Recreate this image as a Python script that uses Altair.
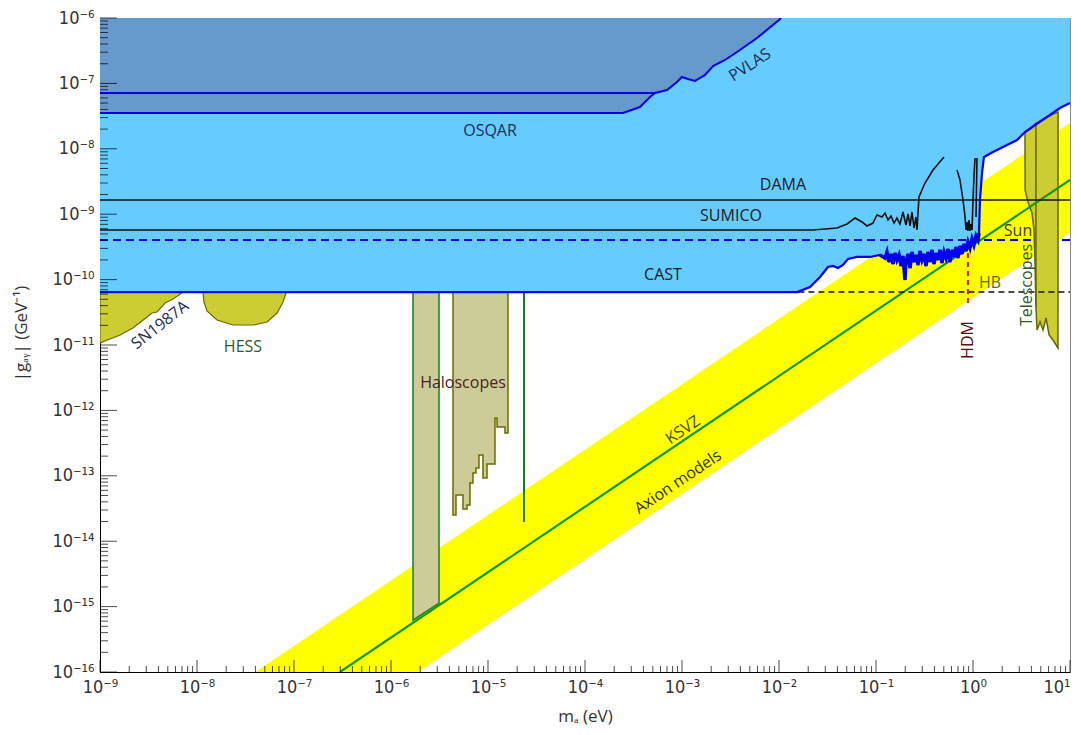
import altair as alt
import pandas as pd

# ================= data (log10 values) =================
x_decades = list(range(-9, 2))          # 1e-9 ... 1e1 eV
y_decades = list(range(-16, -5))        # 1e-16 ... 1e-6 GeV^-1
minor_mult = [2, 3, 4, 5, 6, 7, 8, 9]

# CAST (helioscope) lower boundary of the light-blue excluded region
cast_lx = [-9.0, -1.814, -1.680, -1.577, -1.495, -1.443, -1.392, -1.340, -1.289, -1.196, -1.062, -0.959,
           -0.907, -0.887, -0.866, -0.845, -0.825, -0.804, -0.784, -0.763, -0.742, -0.722,
           -0.701, -0.691, -0.670, -0.649, -0.629, -0.608, -0.588, -0.567, -0.546, -0.526,
           -0.505, -0.485, -0.464, -0.443, -0.423, -0.402, -0.381, -0.361, -0.340, -0.320,
           -0.299, -0.278, -0.258, -0.237, -0.216, -0.196, -0.175, -0.155, -0.134, -0.113,
           -0.093, -0.072, -0.052, -0.031, -0.010, 0.010, 0.031, 0.052, 0.062,
           0.072, 0.093, 0.113, 0.206, 0.309, 0.454, 0.536, 0.639, 0.763, 0.897, 1.0]
cast_ly = [-10.190, -10.190, -10.113, -9.960, -9.807, -9.792, -9.823, -9.777, -9.685, -9.654, -9.654, -9.624,
           -9.670, -9.578, -9.731, -9.609, -9.761, -9.593, -9.700, -9.624, -9.792, -9.639,
           -10.006, -9.731, -9.609, -9.823, -9.578, -9.731, -9.624, -9.777, -9.563, -9.700,
           -9.609, -9.792, -9.578, -9.731, -9.547, -9.761, -9.593, -9.700, -9.547, -9.746,
           -9.578, -9.670, -9.532, -9.731, -9.547, -9.654, -9.502, -9.670, -9.486, -9.609,
           -9.456, -9.563, -9.425, -9.517, -9.379, -9.471, -9.333, -9.394, -9.287,
           -8.783, -8.370, -8.125, -8.049, -7.972, -7.865, -7.743, -7.636, -7.514, -7.376, -7.300]
cast_noise_range = (11, 61)   # index range of the noisy CAST segment

# OSQAR / PVLAS lower boundary of the dark-blue region
pvlas_lx = [-9.0, -3.608, -3.433, -3.330, -3.278, -3.155, -3.052, -3.000, -2.938, -2.866,
            -2.763, -2.680, -2.557, -2.433, -2.227, -2.000, -1.979]
pvlas_ly = [-7.453, -7.453, -7.361, -7.208, -7.147, -7.101, -6.979, -6.902, -6.933, -6.963,
            -6.872, -6.734, -6.642, -6.520, -6.306, -6.031, -6.0]
osqar2_lx = [-9.0, -3.278]
osqar2_ly = [-7.147, -7.147]

# axion-model band and KSVZ line
band_lx = [-7.40, 1.0]
band_upper_ly = [-16.0, -7.60]
band_lower_ly = [-17.68, -9.28]
ksvz_lx = [-6.526, 1.0]
ksvz_ly = [-16.0, -8.474]

top_ly = -6.0
floor_ly = -10.19     # helioscope floor (HB level)

# Haloscopes
admx_lx = [-5.773, -5.505]
admx_ly = [-15.205, -14.945]
thin_lx = [-4.629]
thin_ly = [-13.706]
rbf_lx = [-5.361, -5.330, -5.258, -5.216, -5.186, -5.155, -5.124, -5.093, -5.052, -5.010,
          -4.928, -4.907, -4.825, -4.794]
rbf_ly = [-13.599, -13.294, -13.508, -13.446, -13.110, -12.957, -12.881, -12.682, -13.034, -12.820,
          -12.116, -12.254, -12.346, -12.346]

# SN1987A and HESS
sn_lx = [-9.0, -8.794, -8.660, -8.515, -8.464, -8.412, -8.330, -8.247, -8.155]
sn_ly = [-10.969, -10.847, -10.740, -10.572, -10.511, -10.495, -10.358, -10.297, -10.205]
hess_lx = [-7.938, -7.928, -7.897, -7.794, -7.629, -7.423, -7.278, -7.175, -7.113, -7.082]
hess_ly = [-10.205, -10.343, -10.480, -10.618, -10.694, -10.694, -10.648, -10.511, -10.343, -10.205]

# Telescopes
tel_lx = [0.536, 0.537, 0.567, 0.608, 0.629, 0.639, 0.649, 0.660, 0.691, 0.722, 0.753, 0.784, 0.825, 0.876, 0.877]
tel_top = [-7.743, -7.743, -7.720, -7.682, -7.651, -7.636, -7.606, -7.606, -7.575, -7.545, -7.520, -7.500, -7.470, -7.437, -7.437]
tel_bot = [-7.743, -8.630, -8.813, -8.982, -9.242, -9.746, -10.419, -10.771, -10.648, -10.771, -10.587, -10.847, -10.924, -11.046, -7.437]
tel_mid_lx = [0.649]
tel_mid_ly = [-7.606, -10.419]

# SUMICO (three pieces)
sumico1_lx = [-9.0, -1.649, -1.402, -1.299, -1.216, -1.144, -1.093, -1.031, -0.990, -0.938, -0.907, -0.876,
              -0.845, -0.814, -0.784, -0.753, -0.722, -0.691, -0.670, -0.649, -0.629, -0.608, -0.588,
              -0.577, -0.567, -0.557, -0.526, -0.495, -0.412, -0.299]
sumico1_ly = [-9.242, -9.242, -9.211, -9.150, -9.058, -9.119, -9.180, -9.135, -9.012, -9.043, -8.982, -9.089,
              -9.028, -9.135, -9.058, -9.150, -8.966, -9.165, -8.997, -9.180, -8.966, -9.211, -9.043,
              -9.242, -8.982, -8.737, -8.630, -8.523, -8.324, -8.125]
sumico2_lx = [-0.165, -0.134, -0.103, -0.082, -0.072, -0.062, -0.052, -0.041, -0.031, -0.021, -0.010, 0.0, 0.010, 0.021]
sumico2_ly = [-8.324, -8.477, -8.783, -9.043, -9.242, -9.119, -9.257, -9.089, -9.257, -9.150, -9.242, -8.783, -8.431, -8.141]
sumico3_lx = [0.031, 0.036, 0.041]
sumico3_ly = [-9.043, -8.600, -8.141]

dama_lx = [-9.0, 1.0]
dama_ly = [-8.783, -8.783]
sun_lx = [-9.0, 1.0]
sun_ly = [-9.394, -9.394]
hb_lx = [-1.80, 1.0]
hb_ly = [-10.19, -10.19]
hdm_lx = [-0.052]
hdm_ly = [-9.593]
hdm_ly2 = [-10.358]

# text labels
lab_text = ["OSQAR", "PVLAS", "DAMA", "SUMICO", "CAST", "Sun", "HB", "HDM", "Telescopes",
            "SN1987A", "HESS", "Haloscopes", "KSVZ", "Axion models"]
lab_lx = [-4.979, -2.299, -1.959, -2.495, -3.196, 0.464, 0.175, -0.052, 0.557,
          -8.381, -7.526, -5.258, -2.990, -3.041]
lab_ly = [-7.728, -6.719, -8.554, -9.028, -9.930, -9.257, -10.052, -10.924, -10.083,
          -10.694, -11.031, -11.581, -12.300, -13.095]
lab_color = ["#1f2a55", "#1f2a55", "#1a1a1a", "#1a1a1a", "#1a1a1a", "#3d3d00", "#6b6b00", "#5a1010", "#2f5a2f",
             "#1f2a55", "#2f5a2f", "#4d2222", "#4d4d00", "#333300"]
lab_angle = [0, 327, 0, 0, 0, 0, 0, 270, 270, 322, 0, 0, 326, 326]


# ================= helpers =================
def df(lx, ly, ly2=None):
    d = {"x": [10 ** v for v in lx], "y": [10 ** v for v in ly]}
    if ly2 is not None:
        d["y2"] = [10 ** v for v in ly2]
    return pd.DataFrame(d)


sup = str.maketrans("-0123456789", "⁻⁰¹²³⁴⁵⁶⁷⁸⁹")


def label_expr(exps):
    parts = [f"round(log(datum.value)/LN10) == {e} ? '10{str(e).translate(sup)}'" for e in exps]
    return " : ".join(parts) + " : ''"


FONT = "Open Sans"
TICKFONT = "DejaVu Sans Condensed"
xscale = alt.Scale(type="log", domain=[1e-9, 10], nice=False)
yscale = alt.Scale(type="log", domain=[1e-16, 1e-6], nice=False)

xaxis = alt.Axis(values=[10.0 ** e for e in x_decades], labelExpr=label_expr(x_decades),
                 title="mₐ (eV)", ticks=False, tickSize=0, grid=False, domainColor="black",
                 labelFont=TICKFONT, labelFontSize=18, labelColor="#333333", labelPadding=6,
                 labelAlign={"condition": {"test": "datum.value > 5", "value": "right"}, "value": "center"},
                 labelFlush=False, labelOverlap=False, titleFont=FONT, titleFontSize=17,
                 titleFontWeight="normal", titleColor="#333333", titleY=36)
yaxis = alt.Axis(values=[10.0 ** e for e in y_decades], labelExpr=label_expr(y_decades),
                 title="|gₐᵧ| (GeV⁻¹)", ticks=False, tickSize=0, grid=False, domainColor="black",
                 labelFont=TICKFONT, labelFontSize=18, labelColor="#333333", labelPadding=6,
                 labelFlush=False, labelOverlap=False, titleFont=FONT, titleFontSize=17,
                 titleFontWeight="normal", titleColor="#333333", titleX=-70, titleY=315)


def X():
    return alt.X("x:Q", scale=xscale, axis=xaxis)


def Y():
    return alt.Y("y:Q", scale=yscale, axis=yaxis)


def Y2():
    return alt.Y2("y2:Q")


def area(data, fill, stroke=None, sw=1.0, **kw):
    args = dict(fill=fill, fillOpacity=1, clip=True, **kw)
    if stroke:
        args.update(stroke=stroke, strokeWidth=sw)
    return alt.Chart(data).mark_area(**args).encode(x=X(), y=Y(), y2=Y2())


def line(data, color, sw=1.5, dash=None, **enc):
    args = dict(color=color, strokeWidth=sw, clip=True)
    if dash:
        args["strokeDash"] = dash
    return alt.Chart(data).mark_line(**args).encode(x=X(), y=Y(), **enc)


# ================= layers =================
layers = []
layers.append(area(df(band_lx, band_lower_ly, band_upper_ly), "#FFFF00"))
layers.append(area(df(cast_lx, cast_ly, [top_ly] * len(cast_lx)), "#66CCFF"))
layers.append(line(df(sun_lx, sun_ly), "#0000EE", sw=2, dash=[8, 5]))
layers.append(area(df(pvlas_lx, pvlas_ly, [top_ly] * len(pvlas_lx)), "#6699CC"))
layers.append(area(df(sn_lx, sn_ly, [floor_ly] * len(sn_lx)), "#CCCC33", stroke="#6b6b00", sw=1.2))
layers.append(area(df(hess_lx, hess_ly, [floor_ly] * len(hess_lx)), "#CCCC33", stroke="#6b6b00", sw=1.2))
layers.append(area(df(admx_lx, admx_ly, [floor_ly] * 2), "#CCCC99", stroke="#1f7a1f", sw=1.5))
layers.append(area(df(rbf_lx, rbf_ly, [floor_ly] * len(rbf_lx)), "#CCCC99", stroke="#6b6b00", sw=1.5,
                   interpolate="step-after"))
layers.append(alt.Chart(df(thin_lx, thin_ly, [floor_ly])).mark_rule(color="#1f7a1f", strokeWidth=2)
              .encode(x=X(), y=Y(), y2=Y2()))
layers.append(area(df(tel_lx, tel_bot, tel_top), "#CCCC33", stroke="#666600", sw=1.5))
layers.append(alt.Chart(df(tel_mid_lx, [tel_mid_ly[0]], [tel_mid_ly[1]])).mark_rule(color="#666600", strokeWidth=1.5)
              .encode(x=X(), y=Y(), y2=Y2()))
layers.append(line(df(ksvz_lx, ksvz_ly), "#119911", sw=2.2))
layers.append(line(df(dama_lx, dama_ly), "#111111", sw=1.5))

sumico = pd.concat([df(sumico1_lx, sumico1_ly).assign(seg=1),
                    df(sumico2_lx, sumico2_ly).assign(seg=2),
                    df(sumico3_lx, sumico3_ly).assign(seg=3)])
layers.append(line(sumico, "#111111", sw=1.6, detail="seg:N"))
layers.append(line(df(hb_lx, hb_ly), "#111111", sw=1.5, dash=[6, 4]))
layers.append(alt.Chart(df(hdm_lx, hdm_ly, hdm_ly2)).mark_rule(color="#EE1111", strokeWidth=2, strokeDash=[5, 4])
              .encode(x=X(), y=Y(), y2=Y2()))
layers.append(line(df(osqar2_lx, osqar2_ly), "#0000EE", sw=2))
layers.append(line(df(pvlas_lx, pvlas_ly), "#0000EE", sw=2))
layers.append(line(df(cast_lx, cast_ly), "#0000EE", sw=2.2))
a, b = cast_noise_range
layers.append(line(df(cast_lx[a:b], cast_ly[a:b]), "#0000EE", sw=3.5))

labels = df(lab_lx, lab_ly).assign(text=lab_text, color=lab_color, angle=lab_angle)
layers.append(alt.Chart(labels).mark_text(font=FONT, fontSize=16, align="center", baseline="middle")
              .encode(x=X(), y=Y(), text="text:N",
                      color=alt.Color("color:N", scale=None),
                      angle=alt.Angle("angle:Q", scale=None)))

# inward axis ticks
xmaj = pd.DataFrame({"x": [10.0 ** e for e in x_decades], "y": [1e-16] * len(x_decades)})
xmin = pd.DataFrame({"x": [m * 10.0 ** e for e in x_decades[:-1] for m in minor_mult]})
xmin["y"] = 1e-16
ymaj = pd.DataFrame({"y": [10.0 ** e for e in y_decades], "x": [1e-9] * len(y_decades)})
ymin = pd.DataFrame({"y": [m * 10.0 ** e for e in y_decades[:-1] for m in minor_mult]})
ymin["x"] = 1e-9
layers.append(alt.Chart(xmaj).mark_tick(orient="vertical", size=12, thickness=1, yOffset=-6, color="black")
              .encode(x=X(), y=Y()))
layers.append(alt.Chart(xmin).mark_tick(orient="vertical", size=6, thickness=1, yOffset=-3, color="black")
              .encode(x=X(), y=Y()))
layers.append(alt.Chart(ymaj).mark_tick(orient="horizontal", size=17, thickness=1, xOffset=8.5, color="black")
              .encode(x=X(), y=Y()))
layers.append(alt.Chart(ymin).mark_tick(orient="horizontal", size=8, thickness=1, xOffset=4, color="black")
              .encode(x=X(), y=Y()))

chart = alt.layer(*layers).properties(
    width=970, height=654,
    autosize=alt.AutoSizeParams(type="none"),
    padding={"left": 100, "top": 18, "right": 11, "bottom": 63},
    background="white",
).configure_view(stroke="#888888", strokeWidth=1)

chart.save("out.html", embed_options={"renderer": "svg", "actions": False})
